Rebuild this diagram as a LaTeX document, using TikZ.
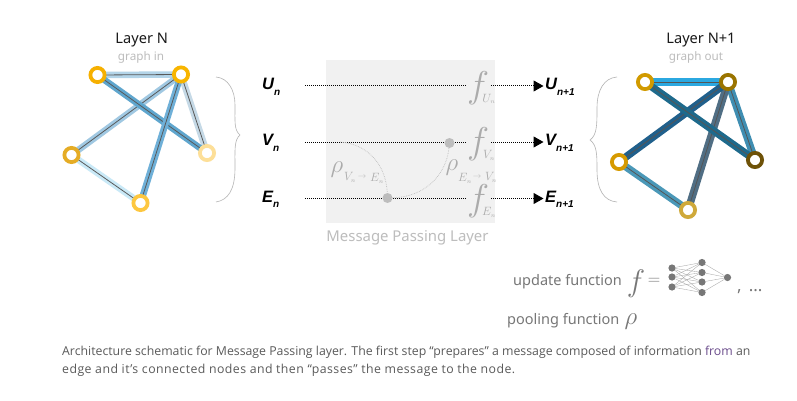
\documentclass[tikz,border=0pt]{standalone}
\usepackage{fontspec}
\setmainfont{Open Sans}
\newfontfamily\lblfont{Liberation Sans}
\newfontfamily\nsfont{Noto Sans}
\usetikzlibrary{arrows.meta}
\definecolor{capc}{HTML}{5A5A5A}
\definecolor{fromc}{HTML}{6B4C8C}
\definecolor{softg}{HTML}{BDBDBD}
\definecolor{symg}{HTML}{ABABAB}
\definecolor{midg}{HTML}{777777}
\definecolor{panelg}{HTML}{F1F1F1}
\definecolor{corel}{HTML}{595959}
\definecolor{corer}{HTML}{555555}
\definecolor{el1}{HTML}{B3D4E8}
\definecolor{el2}{HTML}{C5D9E6}
\definecolor{el3}{HTML}{C9E9F7}
\definecolor{el4}{HTML}{A0C8E2}
\definecolor{el5}{HTML}{5FA6CE}
\definecolor{el6}{HTML}{6FB0D8}
\definecolor{er1}{HTML}{2BA8E0}
\definecolor{er2}{HTML}{3F8EB2}
\definecolor{er3}{HTML}{4A98B8}
\definecolor{er4}{HTML}{506E84}
\definecolor{er5}{HTML}{20608C}
\definecolor{er6}{HTML}{1E6A8C}
\definecolor{nl1}{HTML}{F6B000}
\definecolor{nl2}{HTML}{F8B500}
\definecolor{nl3}{HTML}{E5AC25}
\definecolor{nl4}{HTML}{FDDF98}
\definecolor{nl5}{HTML}{FDC740}
\definecolor{nr1}{HTML}{D19A00}
\definecolor{nr2}{HTML}{9A7400}
\definecolor{nr3}{HTML}{D69A00}
\definecolor{nr4}{HTML}{6E5208}
\definecolor{nr5}{HTML}{CFA93A}
\definecolor{ttlc}{HTML}{1A1A1A}
\definecolor{brcc}{HTML}{B5B5B5}
\definecolor{nnlc}{HTML}{A8A8A8}
\tikzset{
  x=1pt,y=-1pt,
  gnode/.style={circle,draw=#1,fill=white,line width=3.8pt,minimum size=14.2pt,inner sep=0pt},
  band/.style={line width=6.5pt,draw=#1},
  bandr/.style={line width=7.5pt,draw=#1},
  core/.style={line width=0.8pt,draw=#1},
  flow/.style={densely dotted,line width=1pt,draw=black},
  flowtip/.style={flow,-{Triangle[length=10pt,width=11pt,black]}},
  soft/.style={densely dotted,line width=0.7pt,draw=softg},
  pdot/.style={circle,fill=softg,minimum size=10pt,inner sep=0pt},
  invar/.style={font=\lblfont\bfseries\itshape\fontsize{16.5}{16.5}\selectfont,text=black,inner sep=0pt,anchor=base west},
  fsym/.style={font=\fontsize{24}{24}\selectfont,text=symg,inner sep=0pt},
  rsym/.style={font=\fontsize{24}{24}\selectfont,text=symg,inner sep=0pt},
  subs/.style={font=\fontsize{12.5}{12.5}\selectfont,text=symg,inner sep=0pt},
  arrs/.style={font=\fontsize{8}{8}\selectfont,text=softg,inner sep=0pt},
  ttl/.style={font=\nsfont\fontsize{14.6}{15}\selectfont,text=ttlc,inner sep=0pt},
  subt/.style={font=\nsfont\fontsize{11.7}{12}\selectfont,text=softg,inner sep=0pt},
  legend/.style={font=\nsfont\fontsize{14.5}{15}\selectfont,text=midg,inner sep=0pt,anchor=base west},
  capt/.style={font=\fontsize{12.3}{13}\selectfont,text=capc,inner sep=0pt,anchor=base west},
  brc/.style={draw=brcc,line width=0.6pt},
  nn/.style={circle,fill=midg,minimum size=7.2pt,inner sep=0pt},
  nnl/.style={draw=nnlc,line width=0.35pt},
}
\newcommand{\gedge}[4]{\draw[band=#3] (#1) -- (#2); \draw[core=#4] (#1) -- (#2);}
\newcommand{\gedger}[4]{\draw[bandr=#3] (#1) -- (#2); \draw[core=#4] (#1) -- (#2);}
\newcommand{\lowsub}[1]{\raisebox{-5.5pt}{\fontsize{10}{10}\selectfont #1}}
\newcommand{\bigeff}{\scalebox{1.5}{$f$}}
\begin{document}
\begin{tikzpicture}
\useasboundingbox (0,0) rectangle (797,401);
\fill[white] (0,0) rectangle (797,401);
% panel
\fill[panelg] (326,60) rectangle (495,223);
% left graph
\coordinate (pa) at (97.5,75); \coordinate (pb) at (181,74.5); \coordinate (pc) at (71.5,155);
\coordinate (pd) at (207,153); \coordinate (pe) at (140.5,203);
\gedge{pa}{pb}{el1}{corel}
\gedge{pb}{pd}{el2}{corel}
\gedge{pc}{pe}{el3}{corel}
\gedge{pc}{pb}{el4}{corel}
\gedge{pa}{pd}{el5}{corel}
\gedge{pb}{pe}{el6}{corel}
\node[gnode=nl1] (a1) at (pa) {};
\node[gnode=nl2] (b1) at (pb) {};
\node[gnode=nl3] (c1) at (pc) {};
\node[gnode=nl4] (d1) at (pd) {};
\node[gnode=nl5] (e1) at (pe) {};
\node[ttl] (tl) at (141.7,40.5) {Layer N};
\node[subt] (sl) at (141,57) {graph in};
% right graph
\coordinate (qa) at (645,82); \coordinate (qb) at (728,82); \coordinate (qc) at (619,162);
\coordinate (qd) at (755,160); \coordinate (qe) at (688,210);
\gedger{qa}{qb}{er1}{corer}
\gedger{qb}{qd}{er2}{corer}
\gedger{qc}{qe}{er3}{corer}
\gedger{qb}{qe}{er4}{corer}
\gedger{qc}{qb}{er5}{corer}
\gedger{qa}{qd}{er6}{corer}
\node[gnode=nr1] (a2) at (qa) {};
\node[gnode=nr2] (b2) at (qb) {};
\node[gnode=nr3] (c2) at (qc) {};
\node[gnode=nr4] (d2) at (qd) {};
\node[gnode=nr5] (e2) at (qe) {};
\node[ttl] (tr) at (701,40.5) {Layer N+1};
\node[subt] (sr) at (696,57) {graph out};
% braces
\coordinate (bl1) at (216,77); \coordinate (bl2) at (240,135); \coordinate (bl3) at (216,202);
\draw[brc] (bl1) .. controls (228,78) and (235,90) .. (235,105) .. controls (235,122) and (234,130) .. (bl2)
  .. controls (234,140) and (235,150) .. (235,168) .. controls (235,190) and (228,200) .. (bl3);
\coordinate (br1) at (617,77); \coordinate (br2) at (590,140); \coordinate (br3) at (617,202);
\draw[brc] (br1) .. controls (604,78) and (597,90) .. (597,108) .. controls (597,125) and (597,135) .. (br2)
  .. controls (597,145) and (597,155) .. (597,170) .. controls (597,190) and (604,201) .. (br3);
% flows
\node[invar] (un) at (262,90) {U\lowsub{n}};
\node[invar] (vn) at (262,146) {V\lowsub{n}};
\node[invar] (en) at (262,202) {E\lowsub{n}};
\coordinate (us) at (305,86); \coordinate (ue) at (467,86);
\coordinate (vs2) at (305,142); \coordinate (ve) at (467,142);
\coordinate (es) at (305,198.5); \coordinate (ee) at (467,198.5);
\coordinate (uo) at (491,86); \coordinate (vo) at (491,142); \coordinate (eo) at (491,198.5);
\coordinate (ut) at (543.5,86); \coordinate (vt) at (543.5,142); \coordinate (et) at (543.5,198.5);
\node[invar] (un1) at (545,90) {U\lowsub{n+1}};
\node[invar] (vn1) at (545,146) {V\lowsub{n+1}};
\node[invar] (en1) at (545,202) {E\lowsub{n+1}};
\draw[flow] (us) -- (ue);
\draw[flow] (vs2) -- (ve);
\draw[flow] (es) -- (ee);
\draw[flowtip] (uo) -- (ut);
\draw[flowtip] (vo) -- (vt);
\draw[flowtip] (eo) -- (et);
% soft curves and pooling dots
\coordinate (vs) at (340,142);
\node[pdot] (pe1) at (387.5,198) {};
\node[pdot] (pv1) at (449.5,143) {};
\draw[soft] (vs) .. controls (368,144) and (386,165) .. (pe1);
\draw[soft] (pe1) .. controls (425,197) and (446,175) .. (pv1);
% f symbols
\node[fsym] (fu) at (478,88.5) {\bigeff};
\node[fsym] (fv) at (478,144.5) {\bigeff};
\node[fsym] (fe) at (478,201.5) {\bigeff};
\node[subs] (fus) at (489,99) {$U_{\scriptscriptstyle n}$};
\node[subs] (fvs) at (489,155) {$V_{\scriptscriptstyle n}$};
\node[subs] (fes) at (489,212) {$E_{\scriptscriptstyle n}$};
% rho labels
\node[rsym] (r1) at (337,170) {$\rho$};
\node[subs] (r1v) at (350,177) {$V_{\scriptscriptstyle n}$};
\node[arrs] (r1a) at (362,177) {$\rightarrow$};
\node[subs] (r1e) at (377,178) {$E_{\scriptscriptstyle n}$};
\node[rsym] (r2) at (452,168) {$\rho$};
\node[subs] (r2e) at (465,178) {$E_{\scriptscriptstyle n}$};
\node[arrs] (r2a) at (477,177) {$\rightarrow$};
\node[subs] (r2v) at (491,177) {$V_{\scriptscriptstyle n}$};
\node[font=\nsfont\fontsize{14.9}{15}\selectfont,text=softg,inner sep=0pt] (mp) at (407.5,238) {Message Passing Layer};
% legend
\node[legend] (uf) at (513,285) {update function};
\node[font=\fontsize{24}{24}\selectfont,text=midg,inner sep=0pt] (ff) at (636,284) {\scalebox{1.25}{$f$}};
\node[font=\fontsize{17}{17}\selectfont,text=midg,inner sep=0pt] (eq) at (654,281) {$=$};
\foreach \n/\y in {1/268,2/277,3/287} \node[nn] (i\n) at (672,\y) {};
\foreach \n/\y in {1/262.5,2/272.5,3/282,4/292.5} \node[nn] (h\n) at (702,\y) {};
\node[nn] (o1) at (727.5,277.5) {};
\foreach \a in {1,2,3} \foreach \b in {1,2,3,4} \draw[nnl] (i\a) -- (h\b);
\foreach \b in {1,2,3,4} \draw[nnl] (h\b) -- (o1);
\node[font=\nsfont\bfseries\fontsize{17}{17}\selectfont,text=midg,inner sep=0pt,anchor=base west] (dots) at (737,291) {,\hspace{7pt}...};
\node[legend] (pf) at (507,324) {pooling function};
\node[font=\fontsize{24}{24}\selectfont,text=midg,inner sep=0pt] (rr) at (631,322) {$\rho$};
% caption
\node[capt] (c1t) at (62,355) {Architecture schematic for Message Passing layer. The first step “prepares” a message composed of information \textcolor{fromc}{from} an};
\node[capt] (c2t) at (62,373) {\addfontfeature{LetterSpace=3.6}edge and it's connected nodes and then “passes” the message to the node.};
\end{tikzpicture}
\end{document}
